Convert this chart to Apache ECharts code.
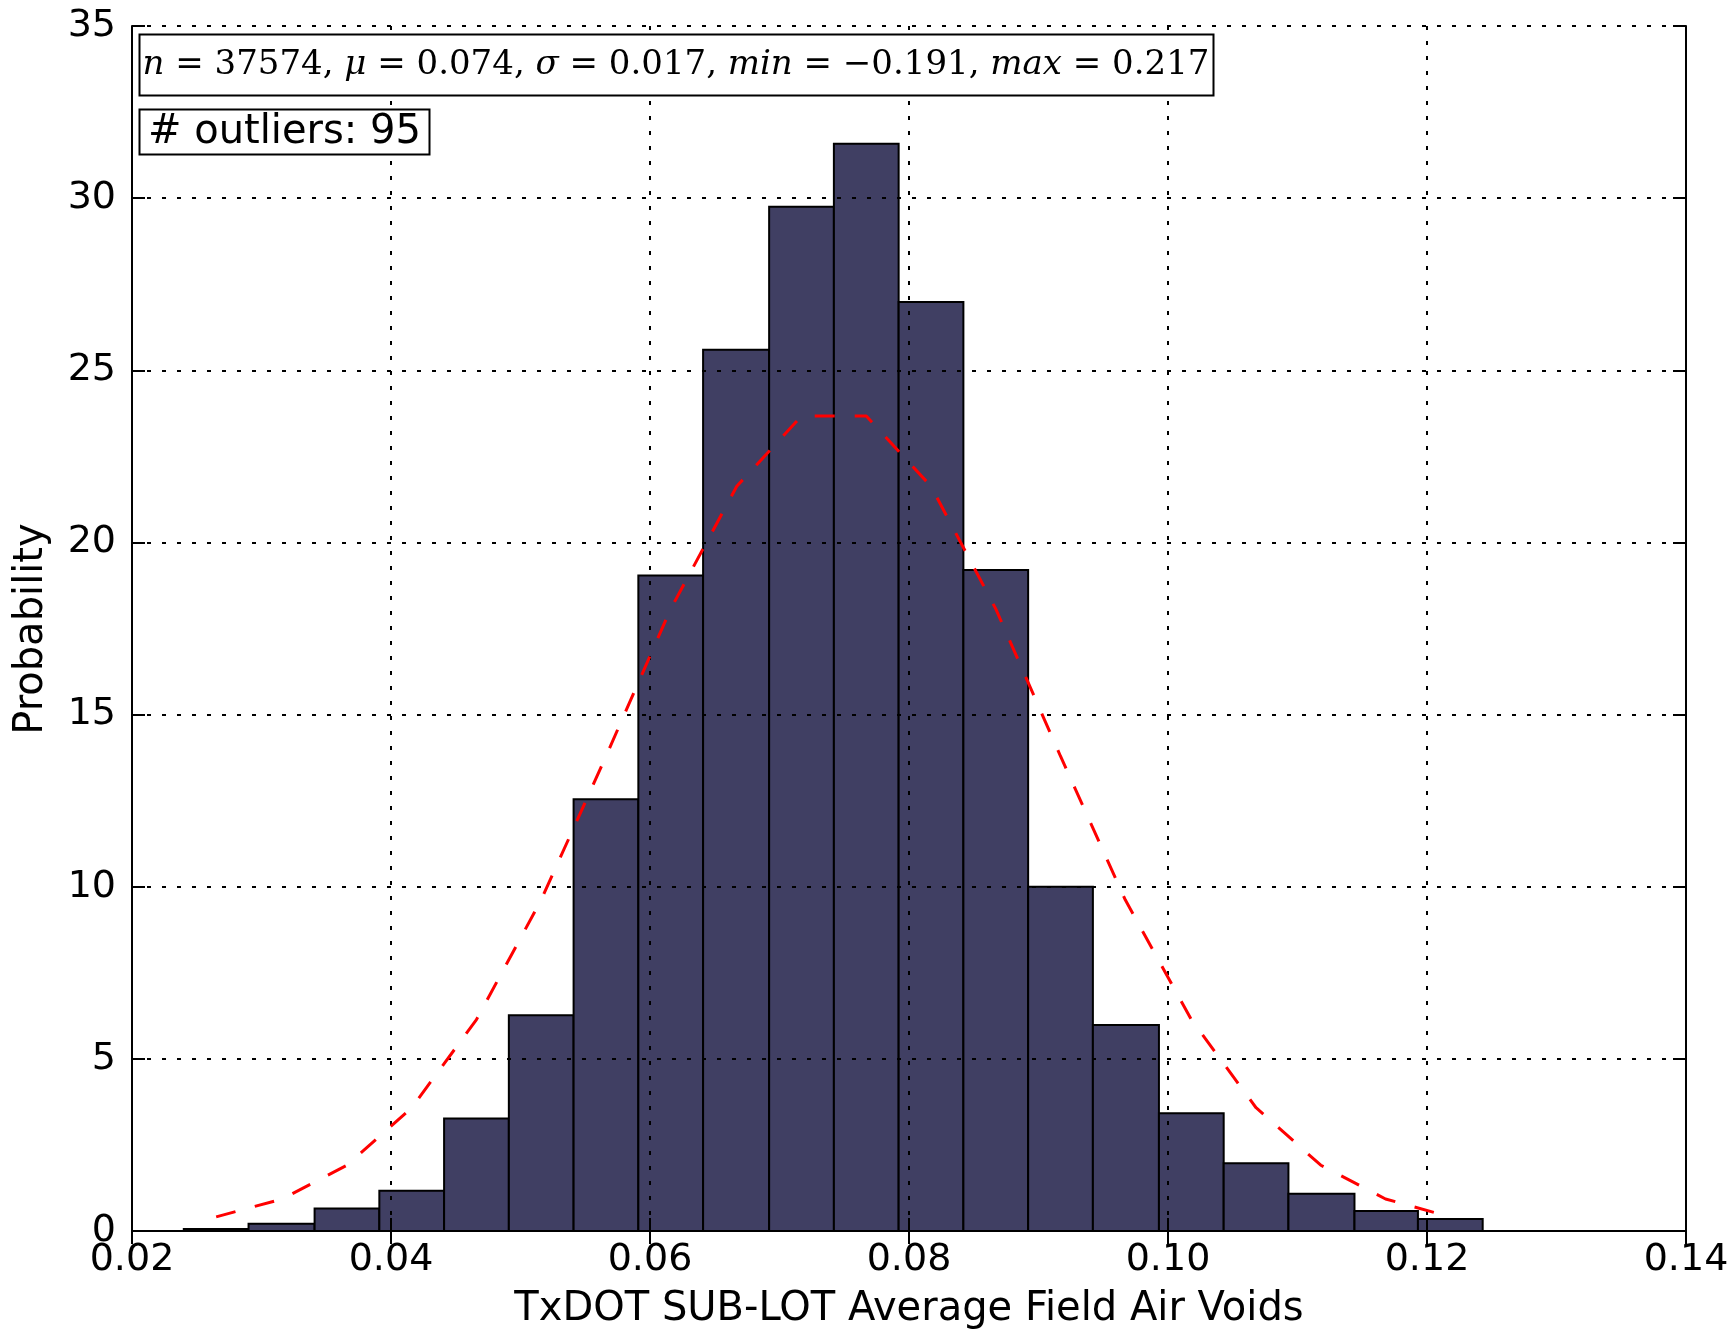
<!DOCTYPE html>
<html><head><meta charset="utf-8">
<script src="https://cdn.jsdelivr.net/npm/echarts@6/dist/echarts.min.js"></script>
<style>html,body{margin:0;padding:0;background:#fff}#c{width:1734px;height:1329px}</style>
</head><body><div id="c"></div>
<script>
// Histogram bin edges (x) and bar heights (probability density)
const binEdges = [0.0240, 0.0290, 0.0341, 0.0391, 0.0441, 0.0491, 0.0541, 0.0591, 0.0641, 0.0692, 0.0742,
                  0.0792, 0.0842, 0.0892, 0.0942, 0.0993, 0.1043, 0.1093, 0.1144, 0.1193, 0.1243];
const barHeights = [0.06, 0.21, 0.65, 1.17, 3.27, 6.27, 12.54, 19.04, 25.6, 29.75,
                    31.58, 26.98, 19.2, 10.0, 5.98, 3.42, 1.97, 1.08, 0.58, 0.35];
// Fitted normal curve (red dashed), read at bin centres
const curveX = [0.0265, 0.0316, 0.0366, 0.0416, 0.0466, 0.0516, 0.0566, 0.0616, 0.0667, 0.0717,
                0.0767, 0.0817, 0.0867, 0.0917, 0.0967, 0.1018, 0.1068, 0.1118, 0.1168, 0.1218];
const curveY = [0.41, 0.93, 1.91, 3.58, 6.14, 9.62, 13.79, 18.07, 21.63, 23.67,
                23.67, 21.63, 18.07, 13.79, 9.62, 6.14, 3.58, 1.91, 0.93, 0.41];
const xTickLabels = ['0.02', '0.04', '0.06', '0.08', '0.10', '0.12', '0.14'];
const yTickLabels = ['0', '5', '10', '15', '20', '25', '30', '35'];
const xTitle = 'TxDOT SUB-LOT Average Field Air Voids';
const yTitle = 'Probability';
const outlierText = '# outliers: 95';

const chart = echarts.init(document.getElementById('c'), null, {renderer: 'canvas'});
const FONT = 'DejaVu Sans';
const gridLine = {show: true, lineStyle: {color: '#000', width: 2, type: [4, 11]}};
const axLine = {show: true, lineStyle: {color: '#000', width: 2}};
const tick = {show: true, inside: true, length: 13, lineStyle: {color: '#000', width: 2}};

const xMin = 0.02, xStep = 0.02, xMax = 0.14;
const yMin = 0, yStep = 5, yMax = 35;

function xLabel(v) {
  const i = Math.round((v - xMin) / xStep);
  return xTickLabels[i] !== undefined ? xTickLabels[i] : '';
}
function yLabel(v) {
  const i = Math.round((v - yMin) / yStep);
  return yTickLabels[i] !== undefined ? yTickLabels[i] : '';
}

const option = {
  backgroundColor: '#fff',
  animation: false,
  grid: {left: 132, right: 48, top: 26, bottom: 98, outerBoundsMode: 'none', containLabel: false},
  xAxis: [
    {type: 'value', position: 'bottom', min: xMin, max: xMax, interval: xStep, z: 10,
     axisLine: axLine, axisTick: tick, splitLine: gridLine,
     axisLabel: {show: true, fontFamily: FONT, fontSize: 38, color: '#000', margin: 10, formatter: xLabel}},
    {type: 'value', position: 'top', min: xMin, max: xMax, interval: xStep, z: 10,
     axisLine: axLine, axisTick: tick, splitLine: {show: false}, axisLabel: {show: false}}
  ],
  yAxis: [
    {type: 'value', position: 'left', min: yMin, max: yMax, interval: yStep, z: 10,
     axisLine: axLine, axisTick: tick, splitLine: gridLine,
     axisLabel: {show: true, fontFamily: FONT, fontSize: 38, color: '#000', margin: 16, formatter: yLabel}},
    {type: 'value', position: 'right', min: yMin, max: yMax, interval: yStep, z: 10,
     axisLine: axLine, axisTick: tick, splitLine: {show: false}, axisLabel: {show: false}}
  ],
  series: [
    {
      type: 'custom', z: 2, xAxisIndex: 0, yAxisIndex: 0,
      data: barHeights.map((h, i) => [binEdges[i], binEdges[i + 1], h]),
      encode: {x: [0, 1], y: 2},
      renderItem: function (params, api) {
        const p0 = api.coord([api.value(0), api.value(2)]);
        const p1 = api.coord([api.value(1), 0]);
        return {type: 'rect',
          shape: {x: p0[0], y: p0[1], width: p1[0] - p0[0], height: p1[1] - p0[1]},
          style: {fill: '#403f63', stroke: '#000', lineWidth: 2}};
      }
    },
    {
      type: 'line', z: 20, xAxisIndex: 0, yAxisIndex: 0,
      data: curveX.map((x, i) => [x, curveY[i]]),
      showSymbol: false, symbol: 'none', smooth: false,
      lineStyle: {color: '#ff0000', width: 3, type: [20, 20]}
    }
  ],
  graphic: [
    {type: 'rect', z: 100, shape: {x: 139.5, y: 34.5, width: 1074, height: 61},
     style: {fill: '#fff', stroke: '#000', lineWidth: 2}},
    {type: 'text', z: 101, x: 676, y: 65,
     style: {
       text: '{i|n}{r| = 37574, }{i|μ}{r| = 0.074, }{i|σ}{r| = 0.017, }{i|min}{r| = −0.191, }{i|max}{r| = 0.217}',
       align: 'center', verticalAlign: 'middle',
       rich: {
         i: {fontFamily: 'DejaVu Serif', fontStyle: 'italic', fontSize: 34, fill: '#000'},
         r: {fontFamily: 'DejaVu Serif', fontSize: 34, fill: '#000'}
       }
     }},
    {type: 'rect', z: 100, shape: {x: 139.5, y: 109.5, width: 290, height: 45},
     style: {fill: '#fff', stroke: '#000', lineWidth: 2}},
    {type: 'text', z: 101, x: 148, y: 133,
     style: {text: outlierText, font: '40px "DejaVu Sans"', fill: '#000', align: 'left', verticalAlign: 'middle'}},
    {type: 'text', z: 101, x: 909, y: 1310,
     style: {text: xTitle, font: '40px "DejaVu Sans"', fill: '#000', align: 'center', verticalAlign: 'middle'}},
    {type: 'text', z: 101, x: 32, y: 629, rotation: Math.PI / 2,
     style: {text: yTitle, font: '40px "DejaVu Sans"', fill: '#000', align: 'center', verticalAlign: 'middle'}}
  ]
};
chart.setOption(option);
</script>
</body></html>
